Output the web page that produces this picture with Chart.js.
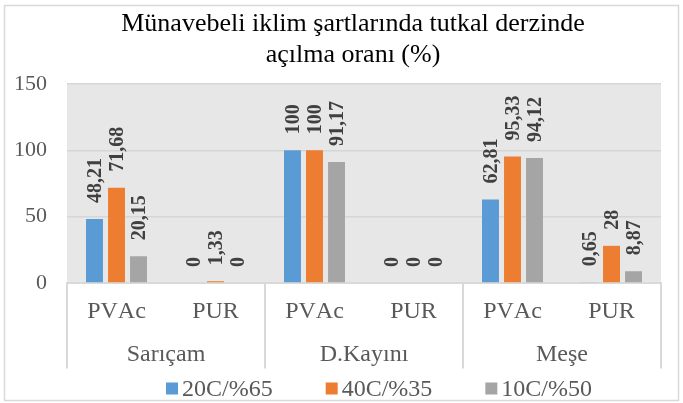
<!DOCTYPE html>
<html>
<head>
<meta charset="utf-8">
<script src="https://cdn.jsdelivr.net/npm/chart.js@4/dist/chart.umd.min.js"></script>
<style>
  html, body { margin: 0; padding: 0; background: #ffffff; }
  #wrap { width: 683px; height: 403px; }
</style>
</head>
<body>
<div id="wrap"><canvas id="c" width="683" height="403"></canvas></div>
<script>
const TITLE_LINES = ['Münavebeli iklim şartlarında tutkal derzinde', 'açılma oranı (%)'];
const CATEGORIES = ['PVAc', 'PUR', 'PVAc', 'PUR', 'PVAc', 'PUR'];
const GROUPS = ['Sarıçam', 'D.Kayını', 'Meşe'];
const SERIES_NAMES = ['20C/%65', '40C/%35', '10C/%50'];
const SERIES_20C = [48.21, 0, 100, 0, 62.81, 0.65];
const SERIES_40C = [71.68, 1.33, 100, 0, 95.33, 28];
const SERIES_10C = [20.15, 0, 91.17, 0, 94.12, 8.87];
const Y_MIN = 0, Y_MAX = 150, Y_STEP = 50;

const COLORS = ['#5B9BD5', '#ED7D31', '#A5A5A5'];
const FONT = "'Liberation Serif', 'Times New Roman', serif";

function noKern(chart) {
  try { chart.ctx.fontKerning = 'none'; } catch (e) {}
}

const kernPlugin = {
  id: 'kern',
  beforeInit: noKern,
  beforeUpdate: noKern,
  beforeLayout: noKern,
  beforeDraw: noKern,
  beforeDatasetsDraw: noKern,
  afterDatasetsDraw: noKern,
  afterLayout(chart) {
    const tb = chart.titleBlock;
    if (tb) { tb.left += 15; tb.right += 15; }
  }
};

const bgPlugin = {
  id: 'bg',
  beforeDraw(chart) {
    const ctx = chart.ctx, a = chart.chartArea;
    ctx.save();
    ctx.fillStyle = '#ffffff';
    ctx.fillRect(0, 0, chart.width, chart.height);
    ctx.strokeStyle = '#D9D9D9';
    ctx.lineWidth = 1.5;
    ctx.strokeRect(4.5, 5.5, chart.width - 9, chart.height - 8);
    ctx.fillStyle = '#E7E7E7';
    ctx.fillRect(a.left, a.top, a.right - a.left, a.bottom - a.top);
    ctx.restore();
  }
};

const separatorPlugin = {
  id: 'separators',
  afterDraw(chart) {
    const x = chart.scales.x, x2 = chart.scales.x2, a = chart.chartArea;
    const ctx = chart.ctx;
    const per = CATEGORIES.length / GROUPS.length;
    ctx.save();
    ctx.strokeStyle = '#D9D9D9';
    ctx.lineWidth = 2;
    for (let g = 0; g <= GROUPS.length; g++) {
      let px;
      if (g === 0) px = a.left;
      else if (g === GROUPS.length) px = a.right;
      else px = (x.getPixelForValue(g * per - 1) + x.getPixelForValue(g * per)) / 2;
      ctx.beginPath();
      ctx.moveTo(px, a.bottom);
      ctx.lineTo(px, x2.bottom);
      ctx.stroke();
    }
    ctx.restore();
  }
};

const labelPlugin = {
  id: 'valueLabels',
  afterDatasetsDraw(chart) {
    const ctx = chart.ctx;
    ctx.save();
    ctx.font = "bold 20px " + FONT;
    ctx.fillStyle = '#404040';
    ctx.textAlign = 'left';
    ctx.textBaseline = 'middle';
    chart.data.datasets.forEach((ds, di) => {
      const meta = chart.getDatasetMeta(di);
      meta.data.forEach((bar, i) => {
        const txt = String(ds.data[i]).replace('.', ',');
        ctx.save();
        ctx.translate(bar.x, bar.y - 16);
        ctx.rotate(-Math.PI / 2);
        ctx.fillText(txt, 0, 1);
        ctx.restore();
      });
    });
    ctx.restore();
  }
};

const legendPlugin = {
  id: 'customLegend',
  afterDraw(chart) {
    const ctx = chart.ctx, a = chart.chartArea;
    ctx.save();
    ctx.font = "24px " + FONT;
    const box = 12, gapText = 4, gapItem = 53;
    const widths = chart.data.datasets.map(ds => box + gapText + ctx.measureText(ds.label).width);
    const total = widths.reduce((s, w) => s + w, 0) + gapItem * (widths.length - 1);
    const cx = (a.left + a.right) / 2 + 15;
    let xpos = cx - total / 2;
    const cy = 388.5;
    chart.data.datasets.forEach((ds, i) => {
      ctx.fillStyle = ds.backgroundColor;
      ctx.fillRect(xpos, cy - box / 2, box, box);
      ctx.fillStyle = '#595959';
      ctx.textAlign = 'left';
      ctx.textBaseline = 'middle';
      ctx.fillText(ds.label, xpos + box + gapText, cy + 1);
      xpos += widths[i] + gapItem;
    });
    ctx.restore();
  }
};

const datasets = [SERIES_20C, SERIES_40C, SERIES_10C].map((d, i) => ({
  label: SERIES_NAMES[i],
  data: d,
  backgroundColor: COLORS[i],
  borderWidth: 0,
  categoryPercentage: 0.667,
  barPercentage: 0.77
}));

new Chart(document.getElementById('c'), {
  type: 'bar',
  data: { labels: CATEGORIES, datasets },
  plugins: [kernPlugin, bgPlugin, separatorPlugin, labelPlugin, legendPlugin],
  options: {
    responsive: false,
    animation: false,
    devicePixelRatio: 1,
    layout: { padding: { left: 15, right: 22, top: 0, bottom: 34.5 } },
    plugins: {
      legend: { display: false },
      tooltip: { enabled: false },
      title: {
        display: true,
        text: TITLE_LINES,
        color: '#000000',
        font: { family: FONT, size: 26, weight: 'normal', lineHeight: 1.19 },
        padding: { top: 8.5, bottom: 13.5 }
      }
    },
    scales: {
      y: {
        min: Y_MIN, max: Y_MAX,
        afterFit(scale) { scale.width = 52; },
        ticks: { stepSize: Y_STEP, color: '#595959', font: { family: FONT, size: 22 }, padding: 20 },
        grid: { color: '#D6D6D6', lineWidth: 1.5, drawTicks: false },
        border: { display: false }
      },
      x: {
        weight: 0,
        offset: true,
        afterFit(scale) { scale.height = 43; },
        ticks: { color: '#595959', font: { family: FONT, size: 24 }, padding: 14.6, maxRotation: 0, autoSkip: false },
        grid: { display: false, drawTicks: false },
        border: { display: true, color: '#D9D9D9', width: 2 }
      },
      x2: {
        type: 'category',
        position: 'bottom',
        labels: GROUPS,
        weight: 1,
        offset: true,
        afterFit(scale) { scale.height = 42.5; },
        ticks: { color: '#595959', font: { family: FONT, size: 24 }, padding: 14.6, maxRotation: 0, autoSkip: false },
        grid: { display: false, drawTicks: false },
        border: { display: false }
      }
    }
  }
});
</script>
</body>
</html>
